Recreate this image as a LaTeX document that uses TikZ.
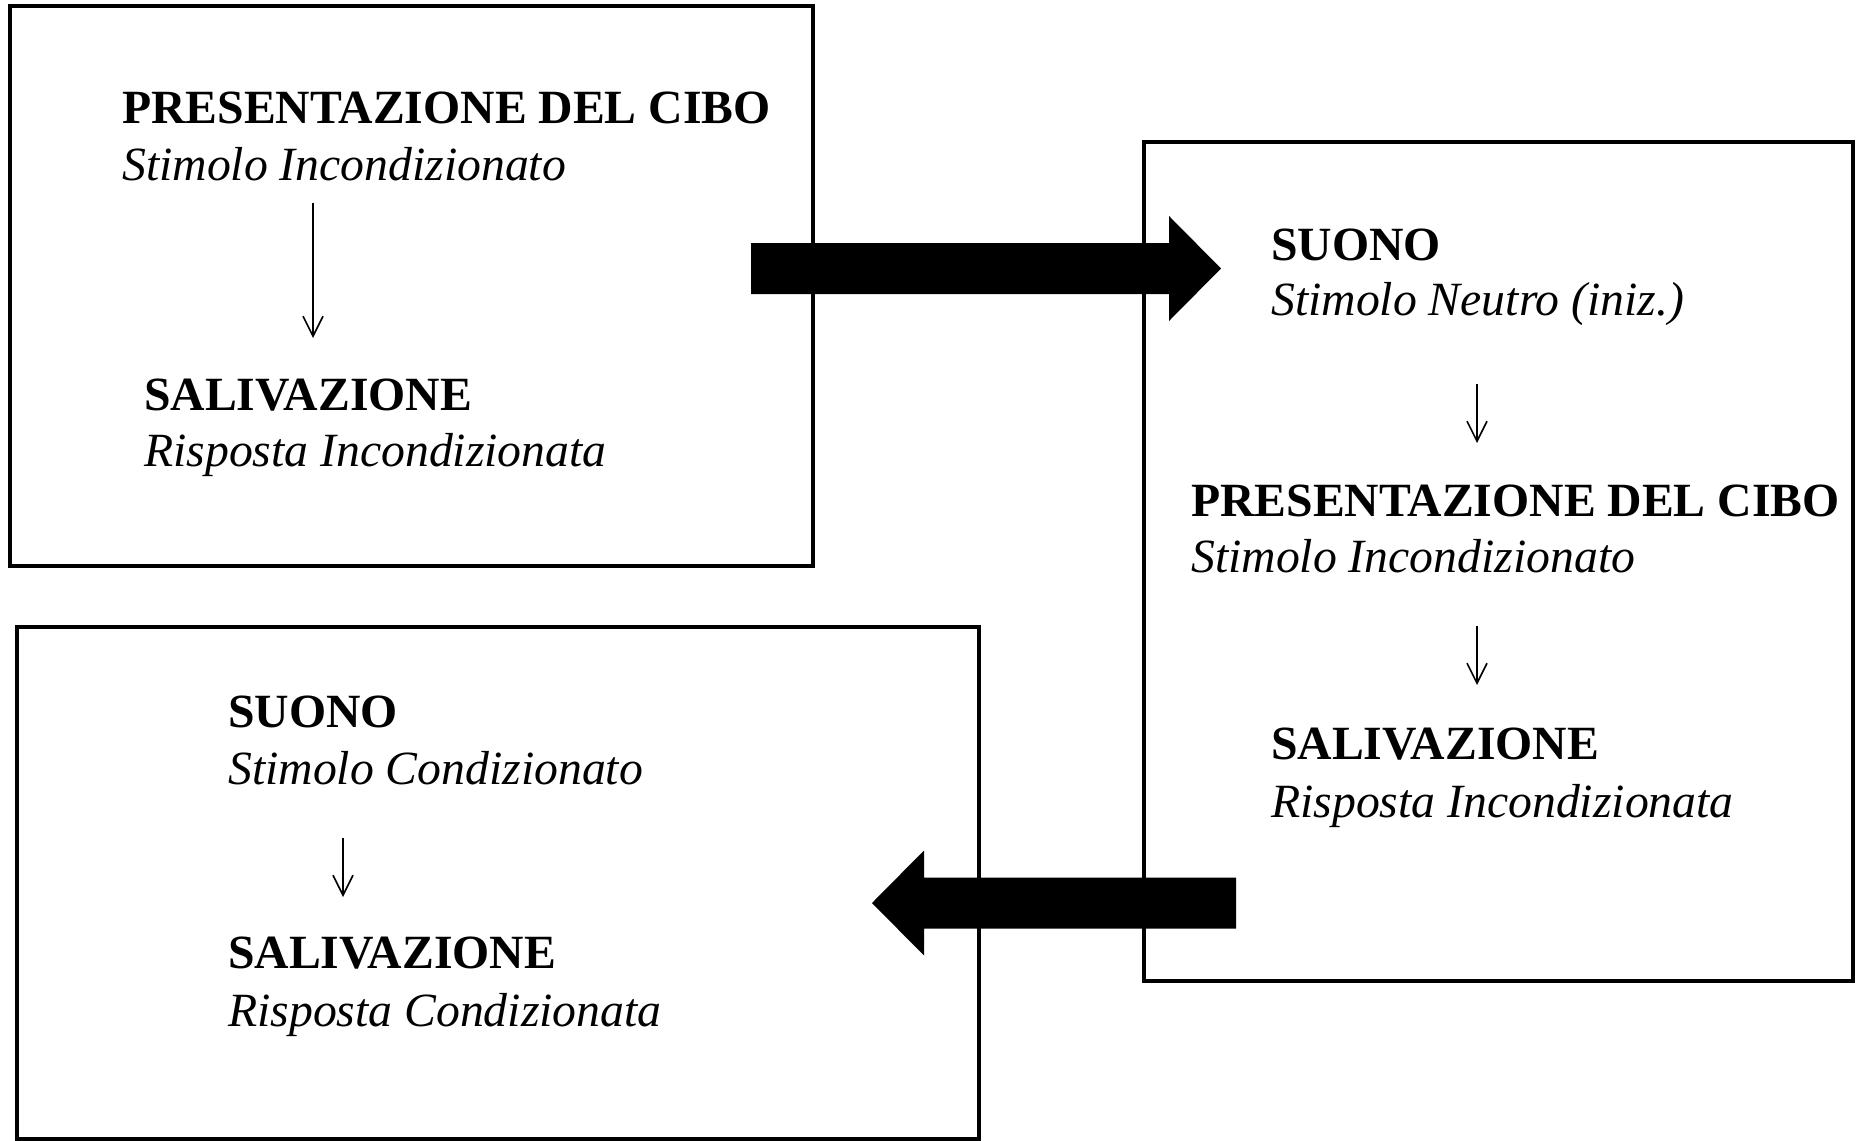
\documentclass[tikz,border=0pt]{standalone}
\usepackage{fontspec}
\setmainfont{Liberation Serif}
\usetikzlibrary{arrows.meta}
\begin{document}
\begin{tikzpicture}[x=1pt,y=-1pt,
  frame/.style={draw=black, line width=4pt, rectangle, inner sep=0pt, outer sep=0pt},
  hd/.style={anchor=base west, inner sep=0pt, font=\fontsize{47.7}{56}\selectfont\bfseries},
  sub/.style={anchor=base west, inner sep=0pt, font=\fontsize{47.7}{56}\selectfont\itshape},
  link/.style={line width=1.6pt, -{Straight Barb[length=20pt,width=20pt,line width=1.6pt]}},
  bigarrow/.style={fill=black, draw=none}]
\useasboundingbox (0,0) rectangle (1857,1140);
\fill[white] (0,0) rectangle (1857,1140);

% boxes
\node[frame, minimum width=803pt, minimum height=560pt] (box1) at (411,286) {};
\node[frame, minimum width=709pt, minimum height=839pt] (box2) at (1498.5,561.5) {};
\node[frame, minimum width=962pt, minimum height=512pt] (box3) at (497.75,882.5) {};

% big arrows
\coordinate (a1s) at (751,268.5);
\fill[bigarrow] (a1s) ++(0,-25.5) -- ++(418,0) -- ++(0,-27) -- ++(52,52.5)
  -- ++(-52,52.5) -- ++(0,-27) -- ++(-418,0) -- cycle;
\coordinate (a2s) at (1236,903);
\fill[bigarrow] (a2s) ++(0,-25.5) -- ++(-312,0) -- ++(0,-27) -- ++(-52,52.5)
  -- ++(52,52.5) -- ++(0,-27) -- ++(312,0) -- cycle;

% box 1
\node[hd]  (b1t1) at (122,123) {PRESENTAZIONE DEL CIBO};
\node[sub] (b1s1) at (122,180) {Stimolo Incondizionato};
\node[hd]  (b1t2) at (144,410) {SALIVAZIONE};
\node[sub] (b1s2) at (144,466) {Risposta Incondizionata};
\coordinate (b1a) at (313,203);
\coordinate (b1b) at (313,338);
\draw[link] (b1a) -- (b1b);

% box 2
\node[hd]  (b2t1) at (1271,260) {SUONO};
\node[sub] (b2s1) at (1271,315) {Stimolo Neutro (iniz.)};
\node[hd]  (b2t2) at (1191,516) {PRESENTAZIONE DEL CIBO};
\node[sub] (b2s2) at (1191,572) {Stimolo Incondizionato};
\node[hd]  (b2t3) at (1271,759) {SALIVAZIONE};
\node[sub] (b2s3) at (1271,817) {Risposta Incondizionata};
\coordinate (b2a) at (1477,384);
\coordinate (b2b) at (1477,443);
\coordinate (b2c) at (1477,626);
\coordinate (b2d) at (1477,685);
\draw[link] (b2a) -- (b2b);
\draw[link] (b2c) -- (b2d);

% box 3
\node[hd]  (b3t1) at (228,727) {SUONO};
\node[sub] (b3s1) at (228,784) {Stimolo Condizionato};
\node[hd]  (b3t2) at (228,968) {SALIVAZIONE};
\node[sub] (b3s2) at (228,1026) {Risposta Condizionata};
\coordinate (b3a) at (343,838);
\coordinate (b3b) at (343,897);
\draw[link] (b3a) -- (b3b);
\end{tikzpicture}
\end{document}
